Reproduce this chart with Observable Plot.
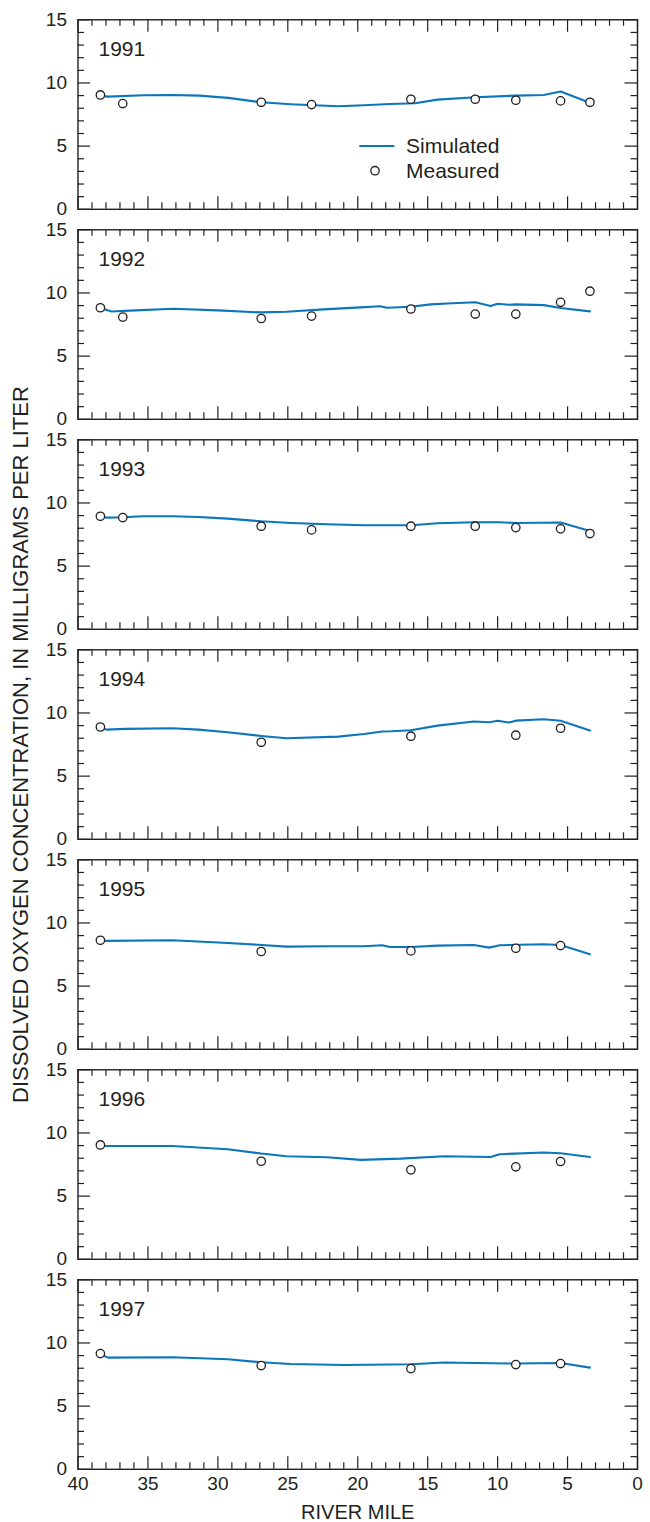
<!DOCTYPE html>
<html>
<head>
<meta charset="utf-8">
<script src="https://cdn.jsdelivr.net/npm/d3@7"></script>
<script src="https://cdn.jsdelivr.net/npm/@observablehq/plot@0.6"></script>
<style>
  body { margin: 0; background: #fff; }
  #chart { position: relative; width: 650px; height: 1522px; font-family: "Liberation Sans", Arial, Helvetica, sans-serif; color: #231f20; }
  #chart svg { display: block; }
  #legend { position: absolute; left: 350px; top: 130px; }
</style>
</head>
<body>
<div id="chart"></div>
<script>
// Years shown, one panel each
const years = [1991, 1992, 1993, 1994, 1995, 1996, 1997];

// Simulated dissolved oxygen, [river mile, mg/L]
const sim1991 = [[38.4, 9.0], [37.9, 8.92], [35.3, 9.03], [33.2, 9.05], [31.35, 9.0], [29.25, 8.82], [26.9, 8.47], [24.8, 8.32], [21.4, 8.16], [19.55, 8.24], [17.7, 8.34], [15.9, 8.4], [14.3, 8.68], [11.6, 8.87], [8.7, 9.0], [6.7, 9.05], [5.5, 9.33], [3.4, 8.43]];
const sim1992 = [[38.4, 8.8], [38.0, 8.67], [37.6, 8.53], [35.9, 8.62], [33.2, 8.75], [30.0, 8.62], [26.9, 8.46], [25.1, 8.51], [22.45, 8.7], [19.8, 8.86], [18.4, 8.95], [17.9, 8.83], [16.2, 8.91], [14.8, 9.1], [13.6, 9.17], [11.6, 9.26], [10.5, 8.97], [10.0, 9.15], [9.2, 9.07], [8.7, 9.1], [6.7, 9.04], [5.5, 8.81], [3.4, 8.54]];
const sim1993 = [[38.4, 8.93], [37.95, 8.84], [36.8, 8.87], [35.35, 8.95], [33.25, 8.95], [31.4, 8.89], [29.3, 8.76], [26.9, 8.55], [24.8, 8.42], [22.2, 8.32], [19.55, 8.24], [16.2, 8.24], [14.3, 8.39], [11.6, 8.47], [9.85, 8.47], [8.7, 8.42], [5.5, 8.45], [3.4, 7.79]];
const sim1994 = [[38.4, 8.85], [37.95, 8.68], [36.65, 8.74], [33.25, 8.79], [31.4, 8.68], [29.3, 8.47], [26.9, 8.18], [25.1, 8.0], [21.4, 8.13], [19.55, 8.34], [18.25, 8.53], [17.6, 8.55], [16.2, 8.63], [14.3, 9.0], [11.7, 9.32], [10.6, 9.26], [10.0, 9.39], [9.2, 9.24], [8.7, 9.39], [6.7, 9.5], [5.5, 9.39], [3.4, 8.61]];
const sim1995 = [[38.4, 8.6], [37.95, 8.58], [33.25, 8.63], [29.3, 8.42], [26.9, 8.26], [25.1, 8.13], [22.2, 8.16], [19.55, 8.16], [18.25, 8.24], [17.7, 8.1], [16.2, 8.1], [14.3, 8.21], [11.7, 8.26], [10.6, 8.05], [9.85, 8.24], [6.7, 8.32], [5.5, 8.26], [3.4, 7.53]];
const sim1996 = [[38.4, 9.0], [37.95, 8.97], [33.25, 8.97], [29.3, 8.71], [26.9, 8.37], [25.1, 8.16], [22.2, 8.08], [19.8, 7.87], [16.95, 7.97], [13.8, 8.16], [10.5, 8.1], [9.85, 8.32], [6.7, 8.45], [5.5, 8.39], [3.4, 8.1]];
const sim1997 = [[38.4, 9.1], [37.85, 8.84], [33.25, 8.87], [29.3, 8.71], [26.9, 8.47], [24.8, 8.34], [20.9, 8.26], [16.2, 8.32], [13.8, 8.45], [11.6, 8.42], [8.7, 8.37], [5.5, 8.42], [3.4, 8.05]];

// Measured dissolved oxygen, [river mile, mg/L]
const meas1991 = [[38.4, 9.05], [36.8, 8.37], [26.9, 8.47], [23.3, 8.29], [16.2, 8.71], [11.6, 8.71], [8.7, 8.63], [5.5, 8.58], [3.4, 8.47]];
const meas1992 = [[38.4, 8.83], [36.8, 8.09], [26.9, 7.98], [23.3, 8.17], [16.2, 8.73], [11.6, 8.33], [8.7, 8.33], [5.5, 9.26], [3.4, 10.14]];
const meas1993 = [[38.4, 8.95], [36.8, 8.84], [26.9, 8.16], [23.3, 7.87], [16.2, 8.16], [11.6, 8.16], [8.7, 8.05], [5.5, 7.95], [3.4, 7.58]];
const meas1994 = [[38.4, 8.89], [26.9, 7.68], [16.2, 8.16], [8.7, 8.24], [5.5, 8.79]];
const meas1995 = [[38.4, 8.63], [26.9, 7.74], [16.2, 7.79], [8.7, 8.0], [5.5, 8.21]];
const meas1996 = [[38.4, 9.05], [26.9, 7.76], [16.2, 7.08], [8.7, 7.32], [5.5, 7.74]];
const meas1997 = [[38.4, 9.16], [26.9, 8.21], [16.2, 7.97], [8.7, 8.29], [5.5, 8.37]];

// Axis ticks
const xMajor = [40, 35, 30, 25, 20, 15, 10, 5, 0];
const xMinor = d3.range(1, 40).filter(v => v % 5 !== 0);
const yMajor = [0, 5, 10, 15];
const yMinor = [1, 2, 3, 4, 6, 7, 8, 9, 11, 12, 13, 14];

const yTitle = "DISSOLVED OXYGEN CONCENTRATION, IN MILLIGRAMS PER LITER";
const xTitle = "RIVER MILE";

// Long-format tables for Plot
const simulatedByYear = [sim1991, sim1992, sim1993, sim1994, sim1995, sim1996, sim1997];
const measuredByYear = [meas1991, meas1992, meas1993, meas1994, meas1995, meas1996, meas1997];
const toRows = series => series.flatMap((pts, i) => pts.map(([mile, value]) => ({year: years[i], mile, value})));
const simulated = toRows(simulatedByYear);
const measured = toRows(measuredByYear);

const ink = "#231f20";
const blue = "#0c76bc";
const W = 650, H = 1522;
const margin = {top: 19.3, right: 13, bottom: 53.2, left: 77.5};
const gap = 20.5;
const pitch = (H - margin.top - margin.bottom + gap) / years.length;
const panelH = pitch - gap;
const frameW = W - margin.left - margin.right;
const majorLen = 12.5, minorLen = 6.5, tickW = 1.2;

const chart = Plot.plot({
  width: W,
  height: H,
  marginTop: margin.top,
  marginRight: margin.right,
  marginBottom: margin.bottom,
  marginLeft: margin.left,
  x: {domain: [40, 0]},
  y: {domain: [0, 15]},
  fy: {domain: years, axis: null, paddingInner: gap / pitch, paddingOuter: 0, round: false},
  style: {fontFamily: '"Liberation Sans", Arial, Helvetica, sans-serif', fontSize: "19px", color: ink, background: "white", overflow: "visible"},
  marks: [
    // inward ticks on all four sides of each panel
    Plot.ruleY(yMajor, {insetRight: frameW - majorLen, stroke: ink, strokeWidth: tickW}),
    Plot.ruleY(yMinor, {insetRight: frameW - minorLen, stroke: ink, strokeWidth: tickW}),
    Plot.ruleY(yMajor, {insetLeft: frameW - majorLen, stroke: ink, strokeWidth: tickW}),
    Plot.ruleY(yMinor, {insetLeft: frameW - minorLen, stroke: ink, strokeWidth: tickW}),
    Plot.ruleX(xMajor, {insetBottom: panelH - majorLen, stroke: ink, strokeWidth: tickW}),
    Plot.ruleX(xMinor, {insetBottom: panelH - minorLen, stroke: ink, strokeWidth: tickW}),
    Plot.ruleX(xMajor, {insetTop: panelH - majorLen, stroke: ink, strokeWidth: tickW}),
    Plot.ruleX(xMinor, {insetTop: panelH - minorLen, stroke: ink, strokeWidth: tickW}),
    Plot.frame({stroke: ink, strokeWidth: 1.4}),
    // tick labels
    Plot.axisY({anchor: "left", ticks: yMajor, tickSize: 0, tickPadding: 11, label: null, fill: ink}),
    Plot.axisX({anchor: "bottom", ticks: xMajor, tickSize: 0, tickPadding: 7, label: null, fill: ink}),
    // data
    Plot.line(simulated, {x: "mile", y: "value", fy: "year", stroke: blue, strokeWidth: 2.1}),
    Plot.dot(measured, {x: "mile", y: "value", fy: "year", r: 4.2, stroke: ink, strokeWidth: 1.3, fill: "white"}),
    // panel year labels
    Plot.text(years, {fy: d => d, text: d => String(d), frameAnchor: "top-left", textAnchor: "start", lineAnchor: "middle", dx: 20.5, dy: 29, fontSize: 21, fill: ink}),
    // axis titles
    Plot.text([years[years.length - 1]], {fy: d => d, text: () => xTitle, frameAnchor: "bottom", textAnchor: "middle", lineAnchor: "middle", dy: 43.5, fontSize: 20, fill: ink}),
    Plot.text([years[3]], {fy: d => d, text: () => yTitle, frameAnchor: "left", textAnchor: "middle", rotate: -90, lineAnchor: "middle", dx: -57.5, fontSize: 22, fill: ink})
  ]
});

const root = document.getElementById("chart");
root.appendChild(chart);

// Legend inside the first panel
const legend = document.createElement("div");
legend.id = "legend";
legend.innerHTML = `
<svg width="170" height="55" style="overflow:visible">
  <line x1="9.3" x2="44.3" y1="16" y2="16" stroke="${blue}" stroke-width="2.1"/>
  <circle cx="25" cy="40.7" r="4.2" fill="white" stroke="${ink}" stroke-width="1.3"/>
  <text x="56" y="16" dy="0.35em" font-size="21" fill="${ink}" font-family='"Liberation Sans", Arial, sans-serif'>Simulated</text>
  <text x="56" y="40.7" dy="0.35em" font-size="21" fill="${ink}" font-family='"Liberation Sans", Arial, sans-serif'>Measured</text>
</svg>`;
root.appendChild(legend);
</script>
</body>
</html>
